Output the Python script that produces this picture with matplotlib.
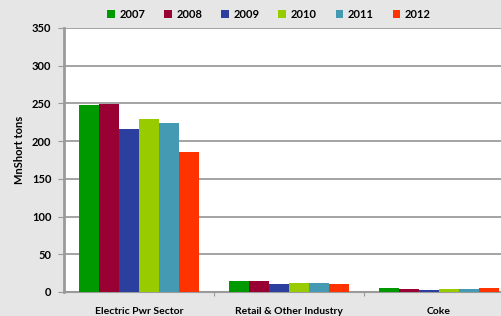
import numpy as np
import matplotlib
matplotlib.use("Agg")
import matplotlib.pyplot as plt

categories = ["Electric Pwr Sector", "Retail & Other Industry", "Coke"]
years = ["2007", "2008", "2009", "2010", "2011", "2012"]
values = {
    "2007": [248, 14.5, 5.3],
    "2008": [249, 14.5, 4.0],
    "2009": [216, 10, 2.5],
    "2010": [229, 12, 3.5],
    "2011": [224, 11.5, 3.5],
    "2012": [186, 10, 5.0],
}
colors = ["#009900", "#990033", "#2a3f9e", "#99cc00", "#4499b3", "#ff3300"]

plt.rcParams["font.family"] = ["Lato", "DejaVu Sans"]
plt.rcParams["font.weight"] = "bold"

fig = plt.figure(figsize=(5.02, 3.16), dpi=100)
fig.patch.set_facecolor("#e6e6e6")
ax = fig.add_axes([64 / 502, 24 / 316, 450 / 502, 264 / 316])
ax.set_facecolor("white")

x = np.arange(len(categories))
w = 0.134
for i, yr in enumerate(years):
    ax.bar(x + (i - 2.5) * w, values[yr], width=w, color=colors[i], label=yr,
           zorder=3, linewidth=0)

ax.set_xlim(-0.5, 2.5)
ax.set_ylim(0, 350)
ax.set_yticks(range(0, 351, 50))
ax.yaxis.grid(True, color="#939393", linewidth=1.2, zorder=0)
ax.set_axisbelow(True)

ax.set_xticks([0.5, 1.5], minor=False)
ax.set_xticklabels([])
ax.set_xticks(x, minor=True)
ax.set_xticklabels(categories, minor=True, fontsize=7.5, fontweight="bold")
ax.tick_params(axis="x", which="minor", length=0, pad=10.5)
ax.tick_params(axis="x", which="major", length=3, color="#9a9a9a")
ax.tick_params(axis="y", length=4, color="#9a9a9a", labelsize=8, pad=5)
for lbl in ax.get_yticklabels():
    lbl.set_fontweight("bold")

for side in ["top", "right"]:
    ax.spines[side].set_visible(False)
ax.spines["left"].set_color("#9a9a9a")
ax.spines["left"].set_linewidth(2)
ax.spines["bottom"].set_color("#9a9a9a")
ax.spines["bottom"].set_linewidth(1.5)

ax.set_ylabel("MnShort tons", fontsize=8, fontweight="bold")
ax.yaxis.set_label_coords(-0.087, 0.54)

fig.legend(loc="center", bbox_to_anchor=(0.536, 0.955), ncol=6, frameon=False,
           fontsize=8, handlelength=0.7, handleheight=0.7, handletextpad=0.4,
           columnspacing=1.7)

fig.savefig("out.png", dpi=100, facecolor=fig.get_facecolor())
